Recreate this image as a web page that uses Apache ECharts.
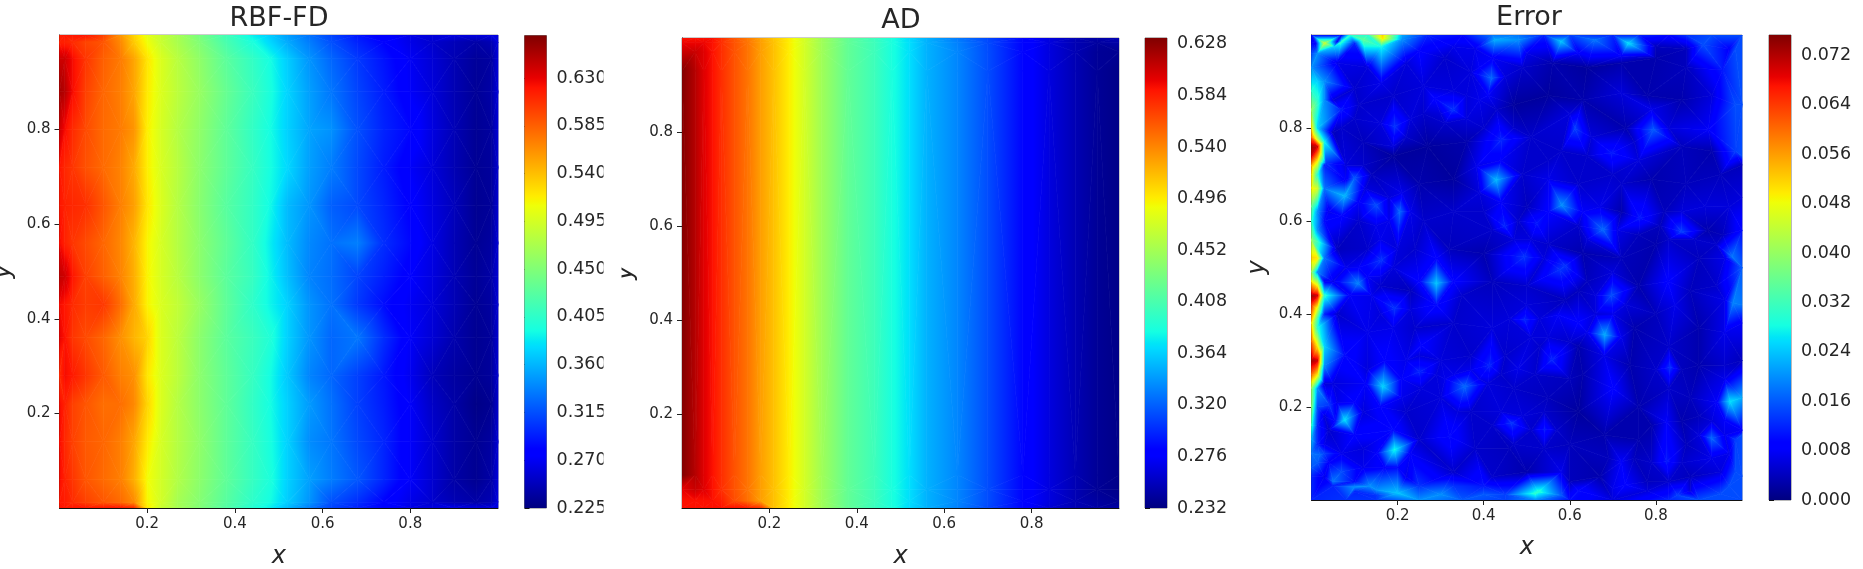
<!DOCTYPE html>
<html><head><meta charset="utf-8">
<style>html,body{margin:0;padding:0;background:#fff}#c{width:1863px;height:569px;filter:blur(0.45px)}</style>
<script src="https://cdn.jsdelivr.net/npm/echarts@6/dist/echarts.min.js"></script>
</head><body><div id="c"></div>
<script>
// ---------- values ----------
const titles = ['RBF-FD', 'AD', 'Error'];
const axisTicks = [0.2, 0.4, 0.6, 0.8];
const rbfTicks = [0.225, 0.27, 0.315, 0.36, 0.405, 0.45, 0.495, 0.54, 0.585, 0.63];
const adTicks = [0.232, 0.276, 0.32, 0.364, 0.408, 0.452, 0.496, 0.54, 0.584, 0.628];
const errTicks = [0, 0.008, 0.016, 0.024, 0.032, 0.04, 0.048, 0.056, 0.064, 0.072];
const rbfRange = [0.225, 0.67];
const adRange = [0.232, 0.633];
const errRange = [0, 0.0753];

// RBF-FD: node values (thousandths), rows top to bottom
const rbfX = [0,.012,.03,.06,.10,.14,.17,.20,.23,.27,.32,.38,.44,.48,.52,.57,.62,.68,.74,.80,.85,.90,.95,.985,1];
const rbfY = [1,.985,.95,.88,.80,.72,.64,.56,.49,.43,.36,.28,.22,.14,.06,.012,0];
const rbfV = [
[615,620,620,620,600,560,530,505,490,470,445,415,385,370,350,330,310,290,275,265,260,262,262,262,262],
[615,615,610,598,590,565,535,510,490,472,450,420,395,375,355,335,315,295,280,265,255,247,240,245,262],
[640,640,625,605,585,572,552,522,500,480,458,430,408,392,370,345,325,305,288,270,258,245,235,238,260],
[655,650,625,600,582,570,552,520,500,482,462,436,412,395,373,350,332,310,292,272,260,245,234,240,260],
[640,625,610,595,580,572,560,518,497,478,458,432,408,392,372,352,344,315,295,282,262,246,233,237,258],
[620,612,605,592,580,568,550,518,498,480,456,432,410,393,375,350,335,312,292,272,260,245,233,236,256],
[620,615,612,608,590,570,555,522,500,478,454,428,408,390,362,345,322,312,296,278,262,248,232,235,256],
[625,615,605,595,582,566,545,515,497,478,456,432,408,385,362,340,330,336,300,283,264,246,233,238,258],
[645,640,620,600,585,568,548,516,497,480,456,430,410,388,364,338,328,310,293,275,262,246,234,240,258],
[625,620,610,602,604,578,550,516,499,485,462,432,406,388,372,345,330,305,285,270,260,246,233,238,258],
[630,622,605,595,582,562,545,530,500,482,456,430,412,398,372,345,325,332,300,272,258,243,232,236,256],
[610,625,618,605,588,570,562,522,500,482,456,432,410,392,368,338,325,308,290,268,248,238,232,236,256],
[625,615,600,590,578,578,566,530,500,478,456,432,408,392,372,348,330,308,292,272,252,240,228,232,254],
[625,612,600,588,582,570,552,520,497,478,458,432,410,394,372,342,332,312,296,272,256,240,232,238,258],
[625,615,605,590,580,570,548,512,495,476,456,432,410,396,372,350,335,318,296,272,256,240,232,240,260],
[620,618,610,600,590,580,565,515,495,470,452,428,405,392,370,345,315,300,280,265,255,245,240,245,262],
[620,620,620,620,620,620,610,520,490,470,450,425,400,385,362,335,310,295,280,265,262,265,262,262,262]
];

// AD: node values (thousandths), rows top to bottom
const adX = [0,.03,.05,.07,.09,.12,.15,.18,.21,.245,.28,.32,.38,.44,.48,.52,.56,.63,.70,.78,.84,.90,.95,1];
const adY = [1,.99,.97,.93,.07,.04,.015,0];
const adV = [
[590,590,590,590,578,560,545,528,512,496,475,450,420,400,385,368,352,330,310,283,265,250,245,250],
[595,595,595,590,578,562,548,530,515,496,475,450,420,402,385,370,352,333,311,283,265,250,243,246],
[608,608,600,590,578,562,548,530,515,496,475,450,420,402,385,370,352,335,312,283,265,250,240,238],
[632,615,600,590,578,562,548,530,515,496,475,450,420,402,385,370,352,335,312,283,265,250,240,235],
[632,615,600,590,578,562,548,530,515,496,475,450,420,402,385,370,352,335,312,283,265,250,240,235],
[598,608,600,590,578,562,548,530,515,496,475,450,420,402,385,370,352,335,312,283,265,250,240,235],
[590,590,590,590,585,565,550,530,515,496,475,450,420,402,385,370,352,335,312,283,265,250,243,238],
[590,590,590,590,590,590,585,575,515,496,475,450,420,400,385,368,352,333,310,283,262,250,245,245]
];

// Error: mesh nodes [x, y, value]
const errPeaks = [
[.418,.907,.017],[.069,.839,.011],[.193,.803,.013],[.329,.839,.013],[.286,.864,.009],[.441,.774,.012],
[.429,.688,.023],[.383,.717,.007],[.077,.654,.023],[.15,.634,.015],[.205,.62,.017],[.10,.692,.016],
[.034,.724,.013],[.162,.516,.013],[.495,.523,.013],[.449,.588,.012],[.162,.896,.007],[.10,.982,.012],
[.162,.975,.028],[.053,.975,.025],[.069,.985,.03],[.426,.989,.022],[.48,.989,.02],
[.58,.986,.024],[.736,.982,.026],[.658,.989,.018],[.91,.979,.015],[.612,.799,.014],[.794,.796,.016],
[.697,.746,.011],[.581,.634,.020],[.677,.581,.017],[.763,.606,.011],[.86,.577,.014],[.523,.595,.011],
[.955,.925,.011],[.977,.523,.018],[.589,.503,.013],[.72,.875,.006],[.922,.796,.008],[.914,.631,.006],
[.108,.466,.019],[.29,.466,.024],[.193,.412,.013],[.251,.276,.012],[.166,.244,.025],[.356,.244,.017],
[.414,.29,.012],[.48,.283,.007],[.465,.165,.013],[.077,.172,.026],[.042,.204,.013],[.193,.108,.028],
[.321,.136,.010],[.019,.097,.017],[.069,.061,.015],[.135,.030,.020],[.255,.333,.009],[.077,.312,.010],
[.495,.387,.012],[.697,.441,.015],[.577,.495,.013],[.979,.423,.019],[.681,.355,.022],[.558,.301,.012],
[.833,.285,.013],[.701,.24,.009],[.972,.212,.026],[.929,.133,.017],[.542,.152,.011],[.825,.168,.008],
[.825,.082,.011],[.72,.082,.008],[.728,.032,.009],[.527,.018,.03],[.58,.06,.007],[.619,.383,.009],
[.844,.419,.007],[.828,.47,.009],[.573,.398,.008]
];
const errValleys = [
[.06,.94,.007],[.13,.93,.006],[.22,.94,.006],[.31,.95,.005],[.37,.92,.006],[.49,.93,.005],[.56,.94,.003],[.64,.93,.002],[.72,.94,.003],[.80,.95,.003],[.87,.93,.004],
[.10,.885,.005],[.19,.87,.005],[.36,.87,.006],[.47,.85,.002],[.55,.87,.002],[.63,.86,.003],[.78,.87,.003],[.86,.86,.003],[.93,.87,.006],
[.05,.79,.004],[.12,.77,.004],[.19,.74,.002],[.27,.76,.002],[.36,.77,.003],[.51,.78,.005],[.55,.73,.005],[.64,.74,.005],[.73,.80,.003],[.86,.76,.004],[.93,.75,.003],
[.14,.70,.004],[.25,.68,.003],[.33,.69,.002],[.49,.70,.005],[.55,.69,.007],[.62,.68,.005],[.72,.68,.005],[.79,.69,.003],[.87,.68,.004],[.95,.70,.004],
[.04,.62,.007],[.11,.60,.005],[.26,.60,.005],[.33,.62,.005],[.40,.62,.005],[.50,.63,.004],[.62,.59,.005],[.72,.62,.003],[.82,.62,.004],[.92,.58,.003],[.97,.63,.006],
[.06,.54,.004],[.13,.54,.005],[.24,.54,.005],[.32,.54,.004],[.40,.53,.003],[.55,.55,.005],[.63,.53,.003],[.72,.52,.004],[.80,.55,.003],[.90,.52,.004],[.94,.55,.005],
[.05,.47,.007],[.16,.46,.005],[.23,.45,.004],[.35,.44,.005],[.42,.47,.004],[.50,.46,.005],[.62,.45,.004],[.76,.46,.003],[.88,.45,.004],[.94,.46,.005],
[.06,.40,.005],[.13,.36,.007],[.24,.37,.005],[.33,.38,.005],[.42,.37,.006],[.53,.33,.005],[.62,.33,.003],[.75,.37,.003],[.80,.40,.004],[.90,.37,.003],[.96,.36,.007],
[.05,.25,.006],[.13,.28,.006],[.30,.30,.006],[.37,.31,.005],[.63,.27,.003],[.74,.29,.003],[.90,.29,.003],[.96,.29,.005],[.30,.22,.006],
[.12,.19,.006],[.22,.19,.005],[.37,.19,.005],[.47,.24,.005],[.55,.22,.004],[.62,.19,.002],[.76,.20,.003],[.88,.22,.004],[.90,.18,.004],
[.04,.15,.005],[.12,.11,.006],[.25,.13,.005],[.38,.11,.005],[.46,.11,.004],[.60,.12,.004],[.68,.14,.003],[.76,.13,.003],[.87,.12,.004],[.97,.10,.007],
[.03,.05,.007],[.12,.07,.007],[.22,.05,.007],[.33,.06,.005],[.42,.05,.005],[.50,.06,.003],[.60,.04,.004],[.67,.05,.003],[.78,.04,.004],[.88,.05,.004],[.95,.06,.006],
[.25,.965,.009],[.33,.975,.007],[.38,.97,.007],[.50,.96,.007],[.62,.96,.008],[.72,.955,.008],[.80,.975,.004],[.87,.97,.004],[.97,.97,.009],
[.25,.03,.013],[.33,.03,.013],[.40,.03,.011],[.62,.02,.010],[.70,.025,.007],[.78,.02,.006],[.88,.02,.006]
];
const errFlanks = [
[.43,.84,.005],[.40,.80,.005],[.44,.73,.008],[.47,.80,.005],[.39,.86,.007],
[.44,.64,.008],[.47,.56,.006],[.42,.58,.005],[.48,.60,.005],[.39,.66,.006],
[.55,.62,.009],[.54,.52,.006],[.51,.56,.006],
[.65,.78,.006],[.75,.77,.005],[.70,.70,.005],[.58,.75,.005],[.83,.80,.006],[.60,.83,.006],[.79,.84,.007],[.76,.73,.006],
[.63,.62,.008],[.67,.63,.007],[.71,.58,.007],[.64,.56,.006],
[.81,.59,.004],[.76,.57,.004],[.86,.62,.006],[.83,.56,.005],[.89,.56,.005],
[.64,.47,.004],[.66,.40,.006],[.70,.40,.007],[.73,.42,.006],[.70,.49,.006],[.66,.44,.006],
[.72,.35,.007],[.64,.36,.007],[.68,.31,.007],
[.53,.39,.006],[.55,.35,.006],[.60,.34,.005],[.59,.43,.004],[.60,.26,.004],[.52,.27,.005],
[.39,.26,.007],[.41,.25,.006],[.34,.19,.006],[.33,.27,.007],[.37,.28,.007],[.31,.26,.007],[.45,.31,.005],[.44,.27,.005],
[.21,.26,.008],[.22,.30,.007],[.29,.27,.006],[.255,.24,.006],[.25,.31,.006],
[.17,.30,.009],[.125,.25,.008],[.21,.22,.007],[.16,.20,.009],
[.055,.17,.010],[.10,.14,.009],[.10,.21,.009],[.06,.21,.007],[.03,.12,.007],
[.19,.15,.010],[.15,.10,.008],[.23,.10,.008],[.20,.07,.010],[.17,.07,.009],
[.07,.10,.007],[.10,.04,.010],[.04,.08,.009],
[.14,.44,.007],[.08,.50,.007],[.09,.44,.008],[.11,.50,.008],[.13,.48,.008],
[.19,.50,.006],[.16,.48,.007],[.20,.54,.006],[.16,.56,.007],
[.16,.40,.006],[.23,.41,.006],[.19,.37,.007],
[.29,.52,.009],[.25,.47,.009],[.33,.47,.009],[.29,.42,.010],
[.11,.64,.008],[.18,.65,.006],[.18,.60,.007],[.15,.59,.007],[.07,.61,.009],[.23,.62,.007],[.21,.66,.007],[.08,.69,.008],
[.12,.72,.005],[.08,.72,.006],[.125,.67,.006],
[.10,.82,.005],[.05,.86,.006],[.07,.80,.005],[.11,.85,.005],
[.16,.81,.006],[.23,.82,.006],[.19,.76,.006],[.22,.78,.005],
[.31,.81,.005],[.36,.82,.006],[.30,.83,.006],[.33,.88,.006],[.26,.83,.005],[.26,.89,.006],
[.39,.93,.008],[.45,.91,.006],[.42,.95,.008],[.41,.87,.008],
[.50,.42,.006],[.46,.39,.006],[.51,.35,.006],
[.44,.19,.006],[.49,.18,.006],[.47,.12,.005],[.42,.16,.005],
[.51,.15,.005],[.57,.15,.005],[.54,.19,.005],[.54,.11,.005],
[.80,.28,.005],[.86,.28,.004],[.83,.33,.005],[.83,.24,.005],
[.79,.16,.003],[.86,.17,.003],
[.90,.14,.006],[.96,.14,.007],[.93,.17,.006],[.93,.09,.007],
[.94,.21,.008],[.96,.26,.007],[.96,.17,.008],
[.96,.43,.007],[.96,.52,.007],[.955,.57,.004],
[.79,.08,.005],[.86,.08,.005],[.83,.04,.005],
[.69,.09,.004],[.75,.09,.004]
];
const errTopEdge = [
[0,1,.009],[.07,1,.009],[.09,1,.03],[.13,1,.03],[.165,1,.052],[.21,1,.022],[.27,1,.012],[.35,1,.010],[.42,1,.018],[.48,1,.018],[.54,1,.012],[.6,1,.014],[.7,1,.012],[.76,1,.012],[.83,1,.010],[.87,1,.013],[.93,1,.015],[1,1,.015],
[.06,.986,.009],[.01,.982,.009],[.03,.982,.045],[.165,.992,.05],[.12,.99,.035],[.21,.99,.02]
];
const errRightEdge = [
[.985,.97,.015],[.985,.85,.015],[.985,.75,.014],[1,.85,.015],[1,.74,.015],[1,.72,.004],[1,.65,.006],[1,.58,.01],[1,.5,.016],[1,.42,.018],[1,.38,.008],[1,.30,.004],[1,.22,.022],[1,.15,.008],[1,.14,.015],[1,.05,.015],
[.985,.13,.014],[.985,.06,.015],[.97,.03,.015],[.95,.013,.015]
];
const errBottomEdge = [
[1,0,.015],[.9,0,.015],[.83,0,.012],[.85,.01,.014],[.7,0,.006],[.6,0,.01],[.52,0,.02],[.45,0,.014],[.35,0,.016],[.25,0,.02],[.15,0,.013],[.08,0,.013],[0,0,.012],
[0,.05,.012],[.05,.03,.012],[.10,.018,.012],[.15,.01,.013],[.05,.04,.018],[.10,.028,.02],[.15,.022,.02],[.2,.015,.024],[.3,.012,.02],[.4,.012,.016],[.45,.012,.014],[.52,.014,.03],[.58,.01,.016]
];
const errLeftEdge = [
[0,.985,.009],[0,.96,.015],[0,.93,.02],[0,.88,.03],[0,.84,.04],[0,.80,.05],[0,.78,.06],[0,.76,.073],[0,.74,.07],[0,.72,.055],[0,.70,.05],[0,.67,.05],[0,.63,.035],[0,.60,.03],[0,.56,.04],[0,.52,.052],[0,.49,.04],[0,.47,.05],[0,.44,.073],[0,.42,.065],[0,.38,.05],[0,.34,.06],[0,.30,.073],[0,.27,.06],[0,.24,.04],[0,.20,.038],[0,.16,.03],[0,.13,.022],[0,.10,.018],[0,.07,.016],
[.014,.96,.02],[.014,.90,.025],[.014,.86,.03],[.014,.80,.025],[.014,.76,.07],[.014,.73,.05],[.014,.70,.03],[.014,.67,.045],[.014,.62,.02],[.014,.58,.02],[.014,.52,.05],[.014,.49,.02],[.014,.46,.05],[.014,.44,.07],[.014,.41,.045],[.014,.37,.03],[.014,.33,.05],[.014,.30,.07],[.014,.27,.05],[.014,.24,.02],[.014,.20,.015],[.014,.16,.012],[.014,.12,.012],[.014,.08,.016],
[.03,.90,.02],[.03,.86,.02],[.03,.77,.028],[.03,.72,.012],[.03,.67,.018],[.03,.60,.01],[.03,.52,.018],[.03,.47,.008],[.03,.44,.03],[.03,.40,.012],[.03,.33,.025],[.03,.29,.02],[.03,.25,.006],[.03,.18,.006],[.03,.10,.014]
];

// ---------- jet colour map and mesh helpers ----------
const jetKnots = [0,.11,.125,.34,.35,.375,.64,.65,.66,.89,.91,1];
function piece(t, xs, ys) {
  for (let i = 1; i < xs.length; i++) if (t <= xs[i]) return ys[i-1] + (ys[i]-ys[i-1])*(t-xs[i-1])/(xs[i]-xs[i-1]);
  return ys[ys.length-1];
}
function jet(t) {
  t = Math.max(0, Math.min(1, t));
  const r = piece(t,[0,.35,.66,.89,1],[0,0,1,1,.5]);
  const g = piece(t,[0,.125,.375,.64,.91,1],[0,0,1,1,0,0]);
  const b = piece(t,[0,.11,.34,.65,1],[.5,1,1,0,0]);
  return 'rgb(' + Math.round(r*255) + ',' + Math.round(g*255) + ',' + Math.round(b*255) + ')';
}
function gridTriangles(xs, ys, rows, scale) {
  const out = [];
  for (let j = 0; j < ys.length-1; j++) for (let i = 0; i < xs.length-1; i++) {
    const A=[xs[i],ys[j],rows[j][i]*scale], B=[xs[i+1],ys[j],rows[j][i+1]*scale],
          C=[xs[i+1],ys[j+1],rows[j+1][i+1]*scale], D=[xs[i],ys[j+1],rows[j+1][i]*scale];
    if ((i+j)%2) { out.push([...A,...B,...C],[...A,...C,...D]); }
    else { out.push([...A,...B,...D],[...B,...C,...D]); }
  }
  return out;
}
function delaunay(nodes) {
  const n = nodes.length, P = nodes.concat([[-200,-200],[400,-200],[.5,400]]);
  function circ(a,b,c){
    const [ax,ay]=P[a],[bx,by]=P[b],[cx,cy]=P[c];
    const d=2*(ax*(by-cy)+bx*(cy-ay)+cx*(ay-by));
    const ux=((ax*ax+ay*ay)*(by-cy)+(bx*bx+by*by)*(cy-ay)+(cx*cx+cy*cy)*(ay-by))/d;
    const uy=((ax*ax+ay*ay)*(cx-bx)+(bx*bx+by*by)*(ax-cx)+(cx*cx+cy*cy)*(bx-ax))/d;
    return {a,b,c,ux,uy,r:(ax-ux)*(ax-ux)+(ay-uy)*(ay-uy)};
  }
  let tris=[circ(n,n+1,n+2)];
  for (let i=0;i<n;i++){
    const [x,y]=P[i], keep=[], edges=new Map();
    for (const t of tris){
      if ((x-t.ux)*(x-t.ux)+(y-t.uy)*(y-t.uy) < t.r-1e-12){
        for (const [p,q] of [[t.a,t.b],[t.b,t.c],[t.c,t.a]]){
          const k=Math.min(p,q)+'_'+Math.max(p,q);
          edges.set(k,(edges.get(k)||0)+1);
        }
      } else keep.push(t);
    }
    tris=keep;
    edges.forEach((c,k)=>{ if(c===1){const [p,q]=k.split('_').map(Number); if(Math.abs((P[q][0]-P[p][0])*(y-P[p][1])-(P[q][1]-P[p][1])*(x-P[p][0]))>1e-12) tris.push(circ(p,q,i));}});
  }
  return tris.filter(t=>t.a<n&&t.b<n&&t.c<n).map(t=>[...nodes[t.a],...nodes[t.b],...nodes[t.c]]);
}
function triangleRenderer(range) {
  const [lo,hi]=range, tOf=v=>(v-lo)/(hi-lo);
  return function(params, api){
    const p=[0,3,6].map(k=>api.coord([api.value(k),api.value(k+1)]));
    const v=[2,5,8].map(k=>api.value(k));
    const pts=p.map(q=>[q[0],q[1]]);
    const vMin=Math.min(...v), vMax=Math.max(...v);
    let fill;
    if (vMax-vMin<1e-9) fill=jet(tOf(vMin));
    else {
      const d1x=p[1][0]-p[0][0],d1y=p[1][1]-p[0][1],d2x=p[2][0]-p[0][0],d2y=p[2][1]-p[0][1];
      const dv1=v[1]-v[0],dv2=v[2]-v[0],det=d1x*d2y-d1y*d2x;
      if (Math.abs(det)<1e-9) return null;
      const gx=(dv1*d2y-dv2*d1y)/det, gy=(d1x*dv2-d2x*dv1)/det, g2=gx*gx+gy*gy;
      const s=p[v.indexOf(vMin)], len=(vMax-vMin)/g2;
      const t0=tOf(vMin), t1=tOf(vMax), stops=[{offset:0,color:jet(t0)}];
      jetKnots.forEach(k=>{ if(k>t0&&k<t1) stops.push({offset:(k-t0)/(t1-t0),color:jet(k)}); });
      stops.push({offset:1,color:jet(t1)});
      fill=new echarts.graphic.LinearGradient(s[0],s[1],s[0]+gx*len,s[1]+gy*len,stops,true);
    }
    return {type:'polygon',shape:{points:pts},style:{fill:fill,stroke:fill,lineWidth:0.7}};
  };
}
function barRenderer(range){
  return function(params, api){
    const a=api.coord([0,range[1]]), b=api.coord([1,range[0]]);
    const stops=jetKnots.map(k=>({offset:k,color:jet(k)}));
    return {type:'rect',shape:{x:a[0],y:a[1],width:b[0]-a[0],height:b[1]-a[1]},
      style:{fill:new echarts.graphic.LinearGradient(a[0],b[1],a[0],a[1],stops,true)}};
  };
}

// ---------- layout ----------
const panelBoxes = [[59.5,35,438.5,473],[682,38,437,470],[1311.5,35,430.5,465]];
const barBoxes = [[524.5,35.5,22,472.5],[1145,38,22,470],[1769,35,22,465]];
const titleCenters = [[274,0],[896,2],[1524,-1]];
const xNameGaps = [37,37,36];
const panelTris = [
  gridTriangles(rbfX,rbfY,rbfV,.001),
  gridTriangles(adX,adY,adV,.001),
  delaunay([].concat(errLeftEdge,errTopEdge,errRightEdge,errBottomEdge,errPeaks,errValleys,errFlanks))
];
const ranges=[rbfRange,adRange,errRange], barTicks=[rbfTicks,adTicks,errTicks];
const ink='#262626', font='DejaVu Sans';
const grids=[],xAxes=[],yAxes=[],series=[];
titles.forEach((t,i)=>{
  const b=panelBoxes[i], c=barBoxes[i];
  grids.push({left:b[0],top:b[1],width:b[2],height:b[3],show:true,borderColor:'#9a9a9a',borderWidth:1,backgroundColor:'transparent',outerBoundsMode:'none'});
  grids.push({left:c[0],top:c[1],width:c[2],height:c[3],show:true,borderColor:'#777',borderWidth:1,backgroundColor:'transparent',outerBoundsMode:'none'});
  const common={type:'value',min:0,max:1,splitLine:{show:false},
    axisLine:{show:true,onZero:false,lineStyle:{color:'#111',width:1}},
    axisTick:{show:true,length:5,customValues:axisTicks,lineStyle:{color:'#222'}},
    axisLabel:{show:true,customValues:axisTicks,fontFamily:font,fontSize:15,color:ink,margin:9,formatter:v=>v.toFixed(1)},
    nameLocation:'middle',nameTextStyle:{fontFamily:font,fontStyle:'italic',fontSize:24,color:ink}};
  xAxes.push({...common,gridIndex:2*i,position:'bottom',name:'x',nameGap:xNameGaps[i]});
  yAxes.push({...common,gridIndex:2*i,position:'left',name:'y',nameGap:i===2?42:44});
  xAxes.push({type:'value',gridIndex:2*i+1,min:0,max:1,show:false});
  yAxes.push({type:'value',gridIndex:2*i+1,min:ranges[i][0],max:ranges[i][1],position:'right',splitLine:{show:false},
    axisLine:{show:false},
    axisTick:{show:true,length:5,customValues:barTicks[i],lineStyle:{color:'#111'}},
    axisLabel:{show:true,customValues:barTicks[i],fontFamily:font,fontSize:17.5,color:ink,margin:10,showMinLabel:true,showMaxLabel:true,formatter:v=>v.toFixed(3)}});
  series.push({type:'custom',name:t,xAxisIndex:2*i,yAxisIndex:2*i,coordinateSystem:'cartesian2d',clip:true,silent:true,
    dimensions:['x1','y1','v1','x2','y2','v2','x3','y3','v3'],encode:{x:[0,3,6],y:[1,4,7]},
    data:panelTris[i],renderItem:triangleRenderer(ranges[i]),z:1});
  series.push({type:'custom',name:t+' colour bar',xAxisIndex:2*i+1,yAxisIndex:2*i+1,coordinateSystem:'cartesian2d',silent:true,
    encode:{x:[0,2],y:[1,3]},data:[[0,ranges[i][0],1,ranges[i][1]]],renderItem:barRenderer(ranges[i]),z:1});
});
const chart=echarts.init(document.getElementById('c'),null,{renderer:'canvas'});
chart.setOption({
  animation:false,backgroundColor:'#fff',
  title:titles.map((t,i)=>({text:t,left:titleCenters[i][0],top:titleCenters[i][1],textAlign:'center',
    textStyle:{fontFamily:font,fontSize:27,fontWeight:'normal',color:ink}})),
  grid:grids,xAxis:xAxes,yAxis:yAxes,series:series,
  graphic:[{type:'rect',z:100,silent:true,shape:{x:603.5,y:60,width:18,height:460},style:{fill:'#fff'}}]
});
</script></body></html>
